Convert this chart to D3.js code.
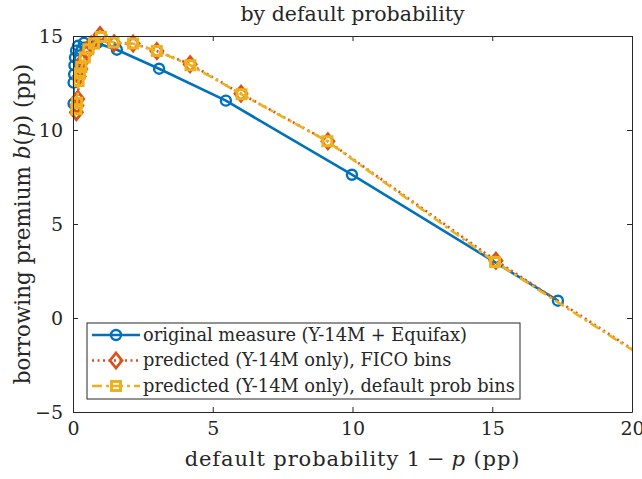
<!DOCTYPE html>
<html>
<head>
<meta charset="utf-8">
<script src="https://cdn.jsdelivr.net/npm/d3@7"></script>
<style>
    body { margin: 0; background: #fff; }
</style>
</head>
<body>
<svg width="642" height="479" font-family="'DejaVu Serif', 'Liberation Serif', serif"></svg>
<script>
// data (x = default probability in pp, y = premium in pp)
var origX = [0.02, 0.02, 0.04, 0.05, 0.07, 0.11, 0.18, 0.39, 0.86, 1.57, 3.08, 5.47, 9.98, 17.35];
var origY = [11.40, 12.52, 12.96, 13.44, 13.85, 14.22, 14.48, 14.64, 14.62, 14.27, 13.26, 11.56, 7.62, 0.92];

var ficoX = [0.12, 0.14, 0.17, 0.22, 0.28, 0.36, 0.50, 0.65, 0.97, 1.47, 2.15, 3.00, 4.19, 6.01, 9.12, 15.13, 22.0];
var ficoY = [10.95, 11.30, 11.65, 12.85, 13.25, 13.70, 14.15, 14.55, 15.05, 14.62, 14.60, 14.20, 13.50, 11.93, 9.40, 3.05, -3.58];

var probX = [0.12, 0.15, 0.20, 0.25, 0.30, 0.42, 0.55, 0.75, 1.00, 1.45, 2.15, 3.00, 4.20, 6.03, 9.10, 15.10, 22.0];
var probY = [11.10, 11.45, 12.60, 13.00, 13.35, 13.85, 14.30, 14.60, 14.95, 14.65, 14.60, 14.20, 13.45, 11.90, 9.40, 2.98, -3.60];

var xTicks = [0, 5, 10, 15, 20];
var yTicks = [-5, 0, 5, 10, 15];

var seriesNames = [
    "original measure (Y-14M + Equifax)",
    "predicted (Y-14M only), FICO bins",
    "predicted (Y-14M only), default prob bins"
];

window.onload = function() {
    var svg = d3.select("svg"),
        margin = { top: 36, right: 10, bottom: 67, left: 73 },
        width = 632 - margin.left,
        height = 412 - margin.top;
    var fontFam = "'DejaVu Serif', 'Liberation Serif', serif";
    var textColor = "#262626";

    var x = d3.scaleLinear().domain([0, 20]).range([0, width]),
        y = d3.scaleLinear().domain([-5, 15]).range([height, 0]);

    var g = svg.append("g").attr("transform", "translate(" + margin.left + "," + margin.top + ")");

    // clip for the lines
    svg.append("defs").append("clipPath").attr("id", "clip")
        .append("rect").attr("width", width).attr("height", height);

    var series = [
        { id: "orig", color: "#0072BD", dash: null, marker: "circle",
          values: origX.map(function(d, i) { return { x: d, y: origY[i] }; }) },
        { id: "fico", color: "#D95319", dash: "2,3.5", marker: "diamond",
          values: ficoX.map(function(d, i) { return { x: d, y: ficoY[i] }; }) },
        { id: "prob", color: "#EDB120", dash: "10,4,3,4", marker: "square",
          values: probX.map(function(d, i) { return { x: d, y: probY[i] }; }) }
    ];

    var line = d3.line()
        .x(function(d) { return x(d.x); })
        .y(function(d) { return y(d.y); });

    // draw a marker shape at 0,0
    var drawMarker = function(sel, type, color) {
        if (type == "circle") {
            sel.append("circle").attr("r", 5)
                .style("fill", "none").style("stroke", color).style("stroke-width", 2.4);
        } else if (type == "diamond") {
            sel.append("path").attr("d", "M0,-7.5L6,0L0,7.5L-6,0Z")
                .style("fill", "none").style("stroke", color).style("stroke-width", 2.8);
        } else {
            sel.append("path").attr("d", "M-4.5,-4.5H4.5V4.5H-4.5Z")
                .style("fill", "none").style("stroke", color).style("stroke-width", 3);
        }
    };

    series.forEach(function(s) {
        g.append("path")
            .attr("d", line(s.values))
            .attr("clip-path", "url(#clip)")
            .style("fill", "none")
            .style("stroke", s.color)
            .style("stroke-width", 2.6)
            .style("stroke-dasharray", s.dash);
        g.selectAll(".m-" + s.id)
            .data(s.values.filter(function(d) { return d.x <= 20; }))
            .enter().append("g")
            .attr("class", "m-" + s.id)
            .attr("transform", function(d) { return "translate(" + x(d.x) + "," + y(d.y) + ")"; })
            .each(function() { drawMarker(d3.select(this), s.marker, s.color); });
    });

    // axes box with inside ticks on all four sides
    var xb = g.append("g").attr("transform", "translate(0," + height + ")")
        .call(d3.axisBottom(x).tickValues(xTicks).tickSizeInner(-5).tickSizeOuter(0).tickPadding(10));
    var xt = g.append("g")
        .call(d3.axisTop(x).tickValues(xTicks).tickSizeInner(-5).tickSizeOuter(0).tickFormat(""));
    var yl = g.append("g")
        .call(d3.axisLeft(y).tickValues(yTicks).tickSizeInner(-5).tickSizeOuter(0).tickPadding(10));
    var yr = g.append("g").attr("transform", "translate(" + width + ",0)")
        .call(d3.axisRight(y).tickValues(yTicks).tickSizeInner(-5).tickSizeOuter(0).tickFormat(""));
    [xb, xt, yl, yr].forEach(function(a) {
        a.attr("font-family", fontFam).attr("font-size", 19);
        a.selectAll("path,line").style("stroke", textColor).style("stroke-width", 1);
        a.selectAll("text").style("fill", textColor);
    });

    // title
    svg.append("text")
        .attr("x", margin.left + width / 2)
        .attr("y", 21)
        .attr("text-anchor", "middle")
        .attr("font-size", 20.5)
        .attr("fill", textColor)
        .text("by default probability");

    // x label
    var xl = svg.append("text")
        .attr("x", margin.left + width / 2)
        .attr("y", 466)
        .attr("text-anchor", "middle")
        .attr("font-size", 21)
        .attr("letter-spacing", 0.9)
        .attr("fill", textColor);
    xl.append("tspan").text("default probability 1");
    xl.append("tspan").attr("dx", 6).text("\u2212");
    xl.append("tspan").attr("dx", 6).style("font-style", "italic").text("p");
    xl.append("tspan").text(" (pp)");

    // y label
    var ylab = svg.append("text")
        .attr("transform", "translate(30," + (margin.top + height / 2) + ") rotate(-90)")
        .attr("text-anchor", "middle")
        .attr("font-size", 21.5)
        .attr("fill", textColor);
    ylab.append("tspan").text("borrowing premium ");
    ylab.append("tspan").style("font-style", "italic").text("b");
    ylab.append("tspan").text("(");
    ylab.append("tspan").style("font-style", "italic").text("p");
    ylab.append("tspan").text(") (pp)");

    // legend
    var leg = svg.append("g").attr("transform", "translate(87,323)");
    leg.append("rect")
        .attr("width", 433).attr("height", 76)
        .style("fill", "#fff").style("stroke", textColor).style("stroke-width", 1);
    series.forEach(function(s, i) {
        var row = leg.append("g").attr("transform", "translate(0," + (12 + i * 25.5) + ")");
        row.append("line")
            .attr("x1", 5).attr("x2", 53)
            .style("stroke", s.color).style("stroke-width", 2.6)
            .style("stroke-dasharray", s.dash);
        var mk = row.append("g").attr("transform", "translate(29,0)");
        drawMarker(mk, s.marker, s.color);
        row.append("text")
            .attr("x", 56).attr("dy", "0.33em")
            .attr("font-size", 17.8)
            .attr("fill", textColor)
            .text(seriesNames[i]);
    });
};
</script>
</body>
</html>
